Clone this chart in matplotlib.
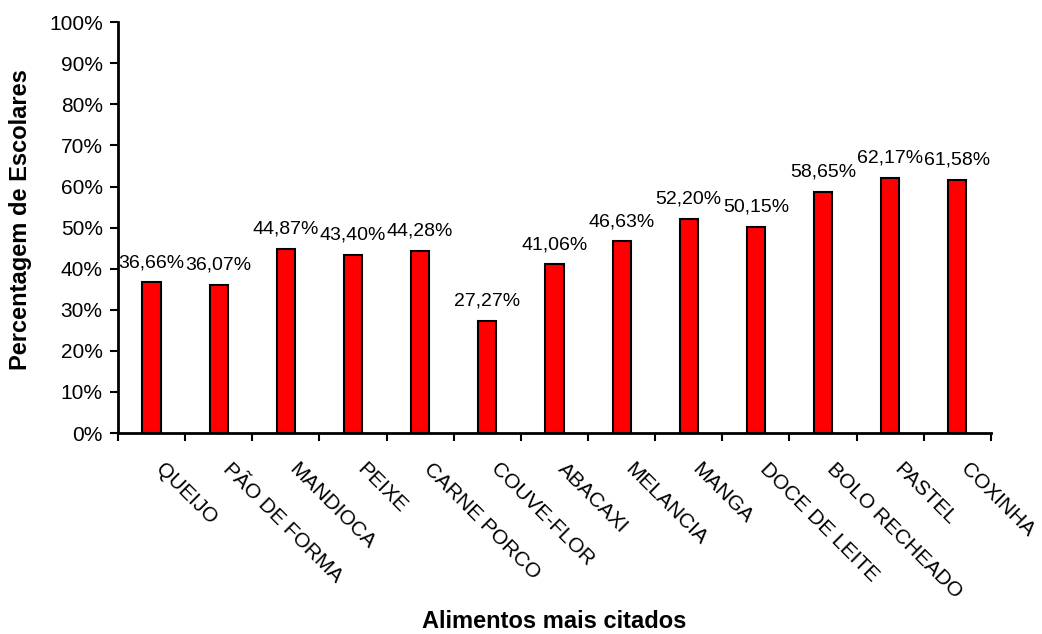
import numpy as np
import matplotlib
matplotlib.use("Agg")
import matplotlib.pyplot as plt

plt.rcParams['font.family'] = ['Liberation Sans', 'DejaVu Sans']

# Alimentos mais citados e percentagem de escolares
alimentos = ['QUEIJO', 'PÃO DE FORMA', 'MANDIOCA', 'PEIXE', 'CARNE PORCO',
             'COUVE-FLOR', 'ABACAXI', 'MELANCIA', 'MANGA', 'DOCE DE LEITE',
             'BOLO RECHEADO', 'PASTEL', 'COXINHA']
percentuais = [36.66, 36.07, 44.87, 43.40, 44.28, 27.27, 41.06,
               46.63, 52.20, 50.15, 58.65, 62.17, 61.58]
yticks_val = list(range(0, 101, 10))

fig = plt.figure(figsize=(10.42, 6.34), dpi=100)
ax = fig.add_axes([0.1132, 0.317, 0.8378, 0.648])

pos = np.arange(len(alimentos)) + 0.5
bars = ax.bar(pos, percentuais, width=0.27, color='#ff0000',
              edgecolor='black', linewidth=1.5)

# rótulos de valor com vírgula decimal
for b, v in zip(bars, percentuais):
    ax.annotate(f'{v:.2f}%'.replace('.', ','),
                (b.get_x() + b.get_width() / 2, v),
                xytext=(0, 8), textcoords='offset points',
                ha='center', va='bottom', fontsize=14)

ax.set_xlim(0, len(alimentos))
ax.set_ylim(0, 100)
ax.set_yticks(yticks_val)
ax.set_yticklabels([f'{t}%' for t in yticks_val], fontsize=15)

# marcas entre categorias, rótulos no centro
ax.set_xticks(np.arange(len(alimentos) + 1))
ax.set_xticklabels([])
ax.set_xticks(pos + 0.2, minor=True)
ax.set_xticklabels(alimentos, minor=True, rotation=-45, ha='left',
                   va='top', rotation_mode='anchor', fontsize=15)
ax.tick_params(axis='x', which='minor', length=0, pad=19)
ax.tick_params(axis='both', which='major', direction='out', length=6,
               width=1.5, pad=5)

for s in ['top', 'right']:
    ax.spines[s].set_visible(False)
for s in ['left', 'bottom']:
    ax.spines[s].set_linewidth(2)

fig.text(0.020, 0.653, 'Percentagem de Escolares', fontsize=17,
         fontweight='bold', rotation=90, ha='center', va='center')
fig.text(0.532, 0.002, 'Alimentos mais citados', fontsize=17,
         fontweight='bold', ha='center', va='bottom')

fig.savefig('out.png', dpi=100)
